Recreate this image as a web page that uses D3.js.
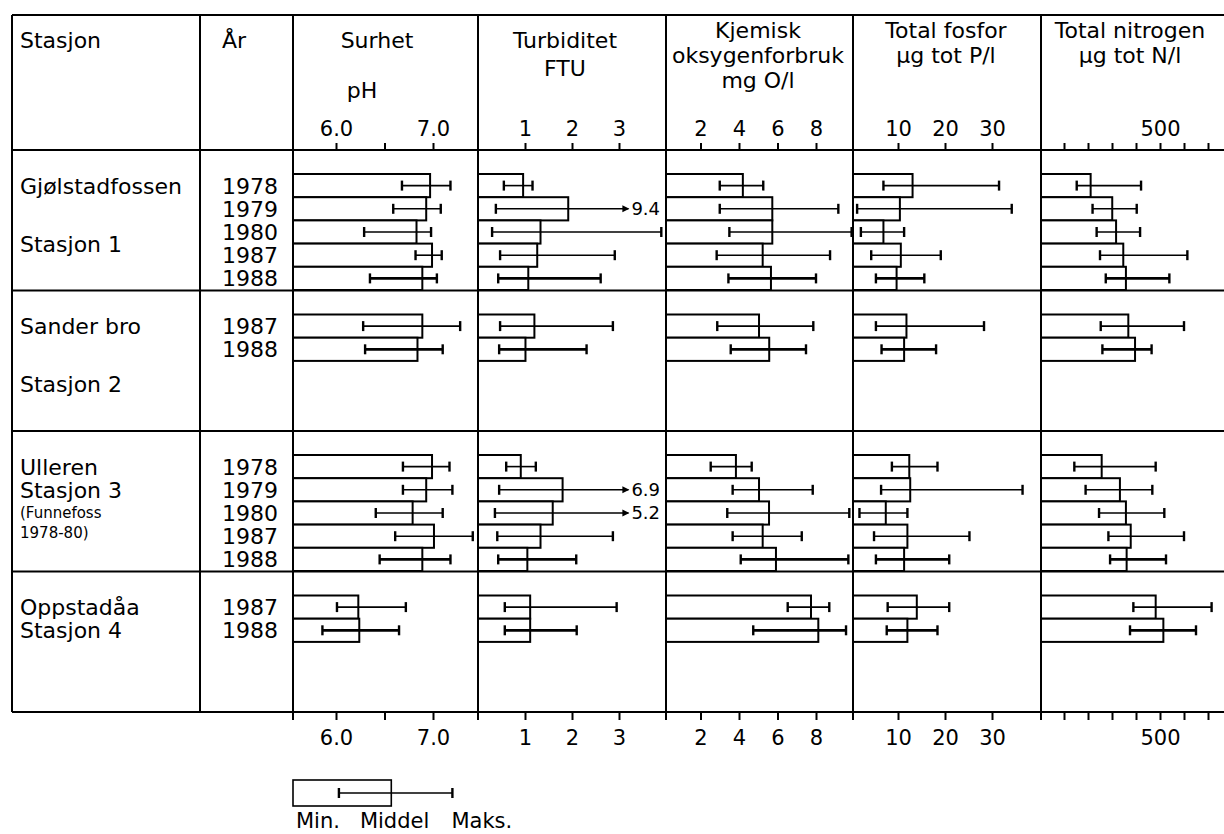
<!DOCTYPE html>
<html>
<head>
<meta charset="utf-8">
<title>Surhet, turbiditet, KOF, fosfor og nitrogen</title>
<script src="https://cdn.jsdelivr.net/npm/d3@7"></script>
<style>
  body { margin: 0; background: #fff; }
  svg text { font-family: "DejaVu Sans", sans-serif; fill: #000; }
</style>
</head>
<body>
<div id="chart"></div>
<script>
// stations and years (one slot per year inside a station group)
const stations = ["Gjølstadfossen", "Sander bro", "Ulleren", "Oppstadåa"];
const stationNo = ["Stasjon 1", "Stasjon 2", "Stasjon 3", "Stasjon 4"];
const years = [
  ["1978", "1979", "1980", "1987", "1988"],
  ["1987", "1988"],
  ["1978", "1979", "1980", "1987", "1988"],
  ["1987", "1988"]
];

// values per station, per year: [min, middel, maks]
const phValues = [
  [[6.68, 6.97, 7.18], [6.59, 6.93, 7.08], [6.29, 6.83, 6.98], [6.82, 6.99, 7.09], [6.35, 6.89, 7.04]],
  [[6.28, 6.89, 7.28], [6.30, 6.84, 7.10]],
  [[6.69, 6.99, 7.17], [6.69, 6.93, 7.20], [6.41, 6.79, 7.10], [6.61, 7.01, 7.41], [6.45, 6.89, 7.18]],
  [[6.01, 6.23, 6.72], [5.86, 6.24, 6.65]]
];
const turbValues = [
  [[0.55, 0.96, 1.16], [0.38, 1.92, 9.4], [0.30, 1.33, 3.9], [0.47, 1.26, 2.91], [0.43, 1.07, 2.61]],
  [[0.47, 1.20, 2.87], [0.45, 1.01, 2.31]],
  [[0.60, 0.91, 1.23], [0.45, 1.80, 6.9], [0.36, 1.59, 5.2], [0.41, 1.33, 2.87], [0.43, 1.05, 2.09]],
  [[0.57, 1.11, 2.95], [0.57, 1.11, 2.10]]
];
const kofValues = [
  [[3.0, 4.2, 5.26], [3.0, 5.73, 9.16], [3.5, 5.73, 9.85], [2.84, 5.23, 8.73], [3.45, 5.66, 8.0]],
  [[2.87, 5.04, 7.86], [3.57, 5.57, 7.48]],
  [[2.53, 3.84, 4.66], [3.67, 5.04, 7.83], [3.39, 5.56, 9.73], [3.67, 5.23, 7.26], [4.09, 5.92, 9.68]],
  [[6.53, 7.74, 8.69], [4.74, 8.12, 9.56]]
];
const totPValues = [
  [[6.9, 13.1, 31.5], [1.3, 10.4, 34.2], [2.1, 6.9, 11.3], [4.3, 10.6, 19.1], [5.3, 9.7, 15.6]],
  [[5.3, 11.8, 28.3], [6.5, 11.3, 18.1]],
  [[8.7, 12.4, 18.4], [6.4, 12.6, 36.5], [1.8, 7.4, 12.0], [4.9, 12.0, 25.2], [5.3, 11.3, 20.9]],
  [[7.8, 14.0, 20.9], [7.6, 12.0, 18.4]]
];
const totNValues = [
  [[153, 211, 421], [219, 301, 403], [236, 317, 417], [250, 347, 614], [274, 358, 539]],
  [[253, 368, 600], [260, 396, 465]],
  [[143, 257, 482], [190, 333, 468], [246, 358, 518], [285, 378, 600], [292, 361, 525]],
  [[389, 482, 715], [375, 514, 650]]
];

// axis ticks
const phTicks = [6.0, 6.5, 7.0];
const phLabels = ["6.0", "", "7.0"];
const turbTicks = [1, 2, 3];
const kofTicks = [2, 4, 6, 8];
const totPTicks = [10, 20, 30];
const totNTicks = [100, 200, 300, 400, 500, 600, 700];
const totNLabels = ["", "", "", "", "500", "", ""];

// legend example: min, middel, maks
const legendValues = [6.03, 6.57, 7.2];
const legendLabels = ["Min.", "Middel", "Maks."];

const width = 1224, height = 834;
const frameTop = 15, headBottom = 150, plotBottom = 712;
const colX = [12, 200, 293, 478, 666, 853, 1041];

const svg = d3.select('#chart').append('svg')
  .attr('width', width).attr('height', height);

svg.append('rect').attr('width', width).attr('height', height).attr('fill', '#fff');

const columns = [
  { x0: 293, x1: 478, values: phValues, scale: d3.scaleLinear().domain([6, 7]).range([336, 433]),
    ticks: phTicks, labels: phLabels, title: ["Surhet"], titleX: 377 },
  { x0: 478, x1: 666, values: turbValues, scale: d3.scaleLinear().domain([0, 3]).range([478, 619]),
    ticks: turbTicks, labels: turbTicks.map(String), title: ["Turbiditet", "FTU"], titleX: 565, cap: 3.2 },
  { x0: 666, x1: 853, values: kofValues, scale: d3.scaleLinear().domain([0, 8]).range([662, 816]),
    ticks: kofTicks, labels: kofTicks.map(String), title: ["Kjemisk", "oksygenforbruk", "mg O/l"], titleX: 758 },
  { x0: 853, x1: 1041, values: totPValues, scale: d3.scaleLinear().domain([0, 30]).range([851, 992]),
    ticks: totPTicks, labels: totPTicks.map(String), title: ["Total fosfor", "µg tot P/l"], titleX: 946 },
  { x0: 1041, x1: 1224, values: totNValues, scale: d3.scaleLinear().domain([0, 500]).range([1040, 1160]),
    ticks: totNTicks, labels: totNLabels, title: ["Total nitrogen", "µg tot N/l"], titleX: 1130 }
];

const group = d3.scaleBand().domain(d3.range(stations.length)).range([headBottom, plotBottom]);
const slot = d3.scaleBand().domain(d3.range(5)).range([24, 140]);
const slotY = (g, i) => group(g) + slot(i);
const slotMid = (g, i) => slotY(g, i) + slot.bandwidth() / 2;

// grid lines
const grid = svg.append('g').attr('stroke', '#000').attr('stroke-width', 2);
[frameTop, headBottom, group(1), group(2), group(3), plotBottom].forEach(y => {
  grid.append('line').attr('x1', 12).attr('x2', width).attr('y1', y).attr('y2', y);
});
colX.forEach((x, i) => {
  grid.append('line').attr('x1', x).attr('x2', x)
    .attr('y1', frameTop).attr('y2', i >= 2 ? plotBottom + 8 : plotBottom);
});

// header
const head = svg.append('g').attr('font-size', 22);
head.append('text').attr('x', 20).attr('y', 48).text('Stasjon');
head.append('text').attr('x', 222).attr('y', 48).text('År');
head.append('text').attr('x', 362).attr('y', 98).attr('text-anchor', 'middle').text('pH');
columns.forEach(c => {
  const y0 = c.title.length === 1 || c.title[0] === "Turbiditet" ? 48 : 38;
  const step = c.title[0] === "Turbiditet" ? 28 : 25;
  c.title.forEach((t, i) => {
    head.append('text').attr('x', c.titleX).attr('y', y0 + i * step)
      .attr('text-anchor', 'middle').text(t);
  });
});

// axes, top and bottom
columns.forEach(c => {
  const fmt = (d, i) => c.labels[i];
  const topAxis = svg.append('g').attr('transform', `translate(0,${headBottom})`)
    .call(d3.axisTop(c.scale).tickValues(c.ticks).tickFormat(fmt).tickSize(7).tickPadding(7));
  const botAxis = svg.append('g').attr('transform', `translate(0,${plotBottom})`)
    .call(d3.axisBottom(c.scale).tickValues(c.ticks).tickFormat(fmt).tickSize(8).tickPadding(10));
  [topAxis, botAxis].forEach(a => {
    a.select('.domain').remove();
    a.attr('font-family', null).attr('font-size', 21);
    a.selectAll('line').attr('stroke', '#000').attr('stroke-width', 2);
    a.selectAll('text').attr('fill', '#000');
  });
});

// station and year labels
const labels = svg.append('g').attr('font-size', 22);
stations.forEach((s, g) => {
  labels.append('text').attr('x', 20).attr('y', slotMid(g, 0)).attr('dy', '0.36em').text(s);
  const noSlot = g === 0 || g === 1 ? 2.5 : 1;
  labels.append('text').attr('x', 20).attr('y', slotMid(g, 0) + noSlot * slot.step())
    .attr('dy', '0.36em').text(stationNo[g]);
  years[g].forEach((yr, i) => {
    labels.append('text').attr('x', 222).attr('y', slotMid(g, i)).attr('dy', '0.36em').text(yr);
  });
});
labels.append('text').attr('x', 20).attr('y', slotMid(2, 2)).attr('dy', '0.36em')
  .attr('font-size', 15).text('(Funnefoss');
labels.append('text').attr('x', 20).attr('y', slotMid(2, 2) + 20).attr('dy', '0.36em')
  .attr('font-size', 15).text('1978-80)');

// bars and min/max lines
function errorBar(g, x1, x2, y, w, capEnd = true) {
  g.append('line').attr('x1', x1).attr('x2', x2).attr('y1', y).attr('y2', y)
    .attr('stroke', '#000').attr('stroke-width', w);
  const ends = capEnd ? [x1, x2] : [x1];
  ends.forEach(x => g.append('line').attr('x1', x).attr('x2', x)
    .attr('y1', y - 5).attr('y2', y + 5).attr('stroke', '#000').attr('stroke-width', 2.4));
}

columns.forEach(c => {
  const layer = svg.append('g');
  c.values.forEach((rows, g) => {
    layer.selectAll(null).data(rows).join('rect')
      .attr('x', c.x0)
      .attr('y', (d, i) => slotY(g, i))
      .attr('width', d => c.scale(d[1]) - c.x0)
      .attr('height', slot.bandwidth())
      .attr('fill', '#fff').attr('stroke', '#000').attr('stroke-width', 2);
    rows.forEach((d, i) => {
      const y = slotMid(g, i);
      const w = years[g][i] === "1988" ? 2.8 : 1.6;
      if (c.cap && d[2] > c.scale.invert(c.x1)) {
        // off-scale maximum: short arrow and the value written out
        const xe = c.scale(c.cap);
        errorBar(layer, c.scale(d[0]), xe, y, w, false);
        layer.append('path').attr('d', `M${xe - 6},${y - 3.5}L${xe + 1},${y}L${xe - 6},${y + 3.5}Z`).attr('fill', '#000');
        layer.append('text').attr('x', xe + 3).attr('y', y).attr('dy', '0.36em')
          .attr('font-size', 18).text(d3.format('.1f')(d[2]));
      } else {
        errorBar(layer, c.scale(d[0]), c.scale(d[2]), y, w);
      }
    });
  });
});

// legend
const ph = columns[0].scale;
const leg = svg.append('g');
const legY = 780, legH = 26;
leg.append('rect').attr('x', colX[2]).attr('y', legY)
  .attr('width', ph(legendValues[1]) - colX[2]).attr('height', legH)
  .attr('fill', '#fff').attr('stroke', '#000').attr('stroke-width', 1.6);
errorBar(leg, ph(legendValues[0]), ph(legendValues[2]), legY + legH / 2, 1.4);
const legX = [colX[2] + 3, ph(legendValues[0]) + 21, ph(legendValues[2]) - 1];
legendLabels.forEach((t, i) => {
  leg.append('text').attr('x', legX[i]).attr('y', 828).attr('font-size', 21).text(t);
});
</script>
</body>
</html>
